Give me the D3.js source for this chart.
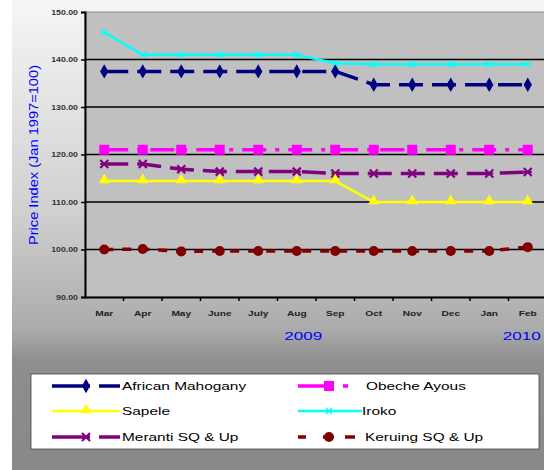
<!DOCTYPE html>
<html><head><meta charset="utf-8">
<script src="https://cdn.jsdelivr.net/npm/d3@7"></script>
<style>html,body{margin:0;padding:0;background:#fff;}svg{display:block;}</style>
</head><body>
<script>
const months = ["Mar","Apr","May","June","July","Aug","Sep","Oct","Nov","Dec","Jan","Feb"];
const yTicks = [90,100,110,120,130,140,150];
const africanMahogany = [137.5,137.5,137.5,137.5,137.5,137.5,137.5,134.7,134.7,134.7,134.7,134.7];
const obecheAyous     = [121,121,121,121,121,121,121,121,121,121,121,121];
const sapele          = [114.4,114.4,114.4,114.4,114.4,114.4,114.4,110,110,110,110,110];
const iroko           = [145.7,141,141,141,141,141,139.2,139,139,139,139,139];
const meranti         = [118,118,116.9,116.4,116.4,116.4,116,116,116,116,116,116.3];
const keruing         = [100,100.1,99.6,99.7,99.7,99.7,99.7,99.7,99.7,99.7,99.7,100.5];

const series = [
  {name:"African Mahogany", values:africanMahogany, color:"#000080", dash:"24,9", legDash:"38,9,21", marker:"diamond"},
  {name:"Obeche Ayous", values:obecheAyous, color:"#ff00ff", dash:"24,9,4,9", legDash:"36,9,5,50", marker:"square"},
  {name:"Sapele", values:sapele, color:"#ffff00", dash:null, legDash:null, marker:"triangle"},
  {name:"Iroko", values:iroko, color:"#00ffff", dash:null, legDash:null, marker:"x"},
  {name:"Meranti SQ & Up", values:meranti, color:"#800080", dash:"24,9", legDash:"38,9,21", marker:"star"},
  {name:"Keruing SQ & Up", values:keruing, color:"#800000", dash:"9,9", legDash:"8,17,10,12,10,100", marker:"circle"}
];

const FONT="Arial, 'Liberation Sans', sans-serif";
const W=544,H=470;
const svg=d3.select("body").append("svg").attr("width",W).attr("height",H);
const defs=svg.append("defs");
const g=defs.append("linearGradient").attr("id","bg").attr("x1",0).attr("y1",0).attr("x2",0).attr("y2",1);
[[0,"#f6f6f6"],[0.45,"#d0d0d0"],[0.7,"#ababab"],[0.77,"#8e8e8e"],[1,"#888"]].forEach(s=>g.append("stop").attr("offset",s[0]).attr("stop-color",s[1]));
svg.append("rect").attr("width",W).attr("height",H).attr("fill","#fff");
svg.append("rect").attr("x",12).attr("width",W-12).attr("height",H).attr("fill","url(#bg)");

function stretch(sel,f){
  sel.each(function(){const l=this.getComputedTextLength();d3.select(this).attr("textLength",l*f).attr("lengthAdjust","spacingAndGlyphs");});
}

const x=d3.scaleBand().domain(months).range([85,547]).padding(0);
const y=d3.scaleLinear().domain([90,150]).range([297,12]);
const cx=m=>x(m)+x.bandwidth()/2;

svg.append("rect").attr("x",85).attr("y",y(150)).attr("width",547-85).attr("height",y(90)-y(150)).attr("fill","#c0c0c0").attr("stroke","#888").attr("stroke-width",1);
svg.append("g").selectAll("line").data(yTicks.filter(v=>v>90&&v<150)).join("line")
  .attr("x1",85).attr("x2",547).attr("y1",d=>y(d)).attr("y2",d=>y(d)).attr("stroke","#000").attr("stroke-width",1.3);

const yAxis=d3.axisLeft(y).tickValues(yTicks).tickFormat(d3.format(".2f")).tickSize(4);
const ya=svg.append("g").attr("transform","translate(85,0)").call(yAxis);
ya.select(".domain").attr("stroke","#000").attr("stroke-width",2);
ya.selectAll(".tick line").attr("stroke","#000").attr("stroke-width",1.5);
ya.selectAll("text").attr("font-family",FONT).attr("font-size",6.5).attr("font-weight","bold").attr("fill","#333").attr("x",-7);
stretch(ya.selectAll("text"),1.35);

const xAxis=d3.axisBottom(x).tickSize(0);
const xa=svg.append("g").attr("transform","translate(0,297)").call(xAxis);
xa.select(".domain").attr("stroke","#000").attr("stroke-width",2);
xa.selectAll("text").attr("font-family",FONT).attr("font-size",7).attr("font-weight","bold").attr("fill","#222").attr("y",14).attr("dy","0.71em");
stretch(xa.selectAll("text"),1.45);
svg.append("g").selectAll("line").data(months).join("line")
  .attr("x1",d=>x(d)+x.bandwidth()).attr("x2",d=>x(d)+x.bandwidth()).attr("y1",297).attr("y2",301).attr("stroke","#000").attr("stroke-width",1.5);

const yl=[{t:"2009",m:"Sep",dx:-32},{t:"2010",m:"Feb",dx:-6}];
const yls=svg.append("g").selectAll("text").data(yl).join("text")
  .attr("x",d=>cx(d.m)+d.dx).attr("y",340)
  .attr("text-anchor","middle").attr("font-family",FONT).attr("font-size",11).attr("fill","#0000ff").text(d=>d.t);
stretch(yls,1.55);

const yt=svg.append("text").attr("transform","translate(38,155) rotate(-90)").attr("text-anchor","middle")
  .attr("font-family",FONT).attr("font-size",13).attr("fill","#0000ff").text("Price Index (Jan 1997=100)");
yt.attr("textLength",180).attr("lengthAdjust","spacingAndGlyphs");

function drawMarker(sel,type,color,px,py){
  if(type==="diamond"){
    sel.append("path").attr("d",d3.symbol(d3.symbolDiamond,60)()).attr("transform",`translate(${px},${py})`).attr("fill",color);
  }else if(type==="square"){
    sel.append("rect").attr("x",px-5).attr("y",py-5).attr("width",10).attr("height",10).attr("fill",color);
  }else if(type==="triangle"){
    sel.append("path").attr("d",d3.symbol(d3.symbolTriangle,55)()).attr("transform",`translate(${px},${py-1})`).attr("fill",color);
  }else if(type==="x"){
    sel.append("path").attr("d",`M${px-3},${py-3}L${px+3},${py+3}M${px-3},${py+3}L${px+3},${py-3}`).attr("stroke",color).attr("stroke-width",1.5);
  }else if(type==="star"){
    sel.append("path").attr("d",`M${px-4},${py-4}L${px+4},${py+4}M${px-4},${py+4}L${px+4},${py-4}M${px-4},${py}L${px+4},${py}`).attr("stroke",color).attr("stroke-width",2.2);
  }else if(type==="circle"){
    sel.append("circle").attr("cx",px).attr("cy",py).attr("r",5).attr("fill",color);
  }
}

const line=d3.line().x((d,i)=>cx(months[i])).y(d=>y(d));
const order=[5,4,2,1,0,3];
order.forEach(k=>{
  const s=series[k];
  const gg=svg.append("g");
  gg.append("path").attr("d",line(s.values)).attr("fill","none").attr("stroke",s.color)
    .attr("stroke-width",s.dash?3.5:2.5).attr("stroke-dasharray",s.dash);
  s.values.forEach((v,i)=>drawMarker(gg,s.marker,s.color,cx(months[i]),y(v)));
});

svg.append("rect").attr("x",31).attr("y",374).attr("width",508).attr("height",75).attr("fill","#fff").attr("stroke","#444").attr("stroke-width",0.8);
const legPos=[[52,386],[298,386],[52,411],[298,411],[52,437],[298,437]];
const legText=[122,366,122,362,122,365];
series.forEach((s,i)=>{
  const [lx,ly]=legPos[i];
  const gg=svg.append("g");
  gg.append("line").attr("x1",lx).attr("x2",lx+(i%2?64:68)).attr("y1",ly).attr("y2",ly).attr("stroke",s.color)
    .attr("stroke-width",s.dash?3.5:2.5).attr("stroke-dasharray",s.legDash);
  drawMarker(gg,s.marker,s.color,lx+(i%2?31:34),ly);
  const t=gg.append("text").attr("x",legText[i]).attr("y",ly+4).attr("font-family",FONT)
    .attr("font-size",11).attr("fill","#000").text(s.name);
  stretch(t,1.4);
});
</script>
</body></html>
